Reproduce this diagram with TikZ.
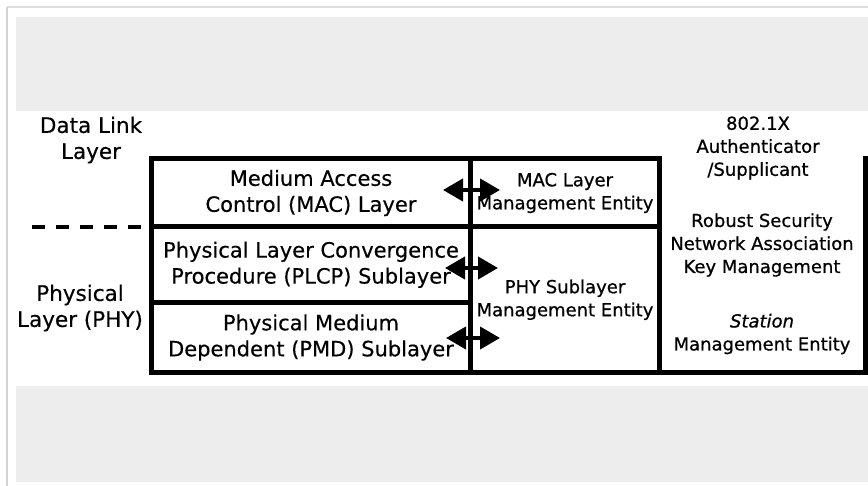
\documentclass[tikz,border=0pt]{standalone}
\usepackage{fontspec}
\setmainfont{DejaVu Sans}
\newfontfamily\lightbold{DejaVu Sans}[FakeBold=0.35]
\newfontfamily\midbold{DejaVu Sans}[FakeBold=0.7]
\usetikzlibrary{arrows.meta,calc}
\definecolor{bandgray}{HTML}{EDEDED}
\definecolor{framegray}{HTML}{D2D2D2}
\tikzset{
  box/.style={draw=black, line width=5pt, rectangle, inner sep=0pt, outer sep=0pt, align=center,
    font=\lightbold\fontsize{21}{26}\selectfont},
  mebox/.style={draw=black, line width=5pt, rectangle, inner sep=0pt, outer sep=0pt, align=center,
    font=\midbold\fontsize{18}{23}\selectfont},
  sidelabel/.style={align=center, inner sep=0pt, font=\lightbold\fontsize{21.5}{26}\selectfont},
  rlabel/.style={align=center, inner sep=0pt, font=\midbold\fontsize{18}{23}\selectfont},
  dblarrow/.style={line width=4pt, {Triangle[length=20pt,width=22pt]}-{Triangle[length=20pt,width=22pt]}},
  thickline/.style={line width=5pt, line cap=rect},
}
\begin{document}
\begin{tikzpicture}[x=1pt,y=-1pt]
\useasboundingbox (0,0) rectangle (868,486);
% background bands and frame
\fill[bandgray] (16,17) rectangle (868,111);
\fill[bandgray] (16,386) rectangle (868,482);
\draw[framegray!70, line width=1.2pt] (7,7) -- (868,7);
\draw[framegray, line width=2pt] (7,7) -- (7,486);
% left column boxes
\node[box, minimum width=319pt, minimum height=68pt] (mac) at (311,193)
  {Medium Access\\Control (MAC) Layer};
\node[box, minimum width=319pt, minimum height=75.5pt] (plcp) at (311,264.75)
  {Physical Layer Convergence\\Procedure (PLCP) Sublayer};
\node[box, minimum width=319pt, minimum height=70pt] (pmd) at (311,337.5)
  {Physical Medium\\Dependent (PMD) Sublayer};
% middle column boxes
\node[mebox, minimum width=189pt, minimum height=68pt] (macme) at (565,193)
  {MAC Layer\\Management Entity};
\node[mebox, minimum width=189pt, minimum height=145.5pt] (phyme) at (565,299.75)
  {PHY Sublayer\\Management Entity};
% right column (open top)
\coordinate (rtop) at (865.5,159);
\coordinate (rbot) at (865.5,372.5);
\draw[thickline] (rtop) -- (rbot) -- (phyme.south east);
% right column texts
\node[rlabel] (auth) at (758,148) {802.1X\\Authenticator\\/Supplicant};
\node[rlabel] (rsna) at (762,245) {Robust Security\\Network Association\\Key Management};
\node[rlabel] (sme) at (762,334) {\textit{Station}\\Management Entity};
% side labels
\node[sidelabel] (dll) at (91,140) {Data Link\\Layer};
\node[sidelabel] (phy) at (80,308) {Physical\\Layer (PHY)};
% dashed separator
\coordinate (dashstart) at (32,227);
\draw[line width=3.5pt, dash pattern=on 13pt off 11pt] (dashstart) -- (mac.south west);
% arrows between sublayers and management entities
\draw[dblarrow] ($(mac.east)+(-27.5,-3)$) -- ($(macme.west)+(29.5,-3)$);
\draw[dblarrow] ($(plcp.east)+(-25.5,3.25)$) -- ($(phyme.west |- plcp.east)+(27.5,3.25)$);
\draw[dblarrow] ($(pmd.east)+(-24.5,0.5)$) -- ($(phyme.west |- pmd.east)+(29.5,0.5)$);
\end{tikzpicture}
\end{document}
